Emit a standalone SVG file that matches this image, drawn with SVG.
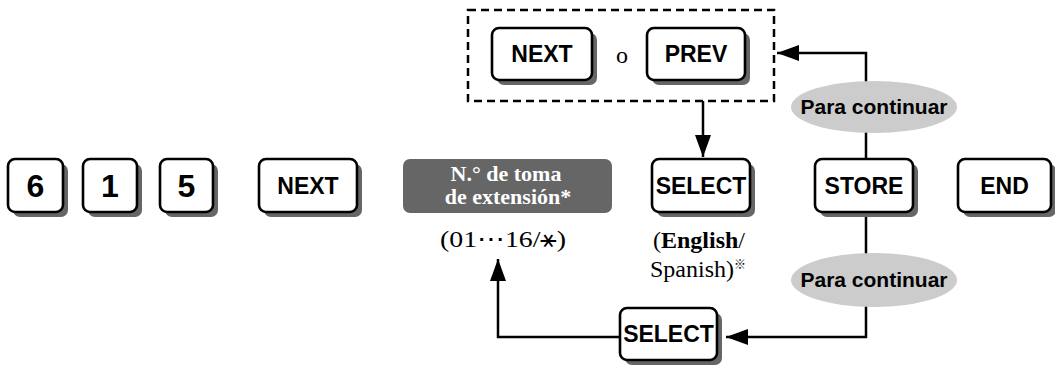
<svg xmlns="http://www.w3.org/2000/svg" width="1055" height="365" viewBox="0 0 1055 365">
<style>
.key{fill:#fff;stroke:#000;stroke-width:2.6}
.sh{fill:#666}
.kt{font-family:"Liberation Sans",Arial,sans-serif;font-weight:bold;font-size:23px;text-anchor:middle;fill:#000}
.dg{font-family:"Liberation Sans",Arial,sans-serif;font-weight:bold;font-size:32px;text-anchor:middle;fill:#000}
.sf{font-family:"Liberation Serif","Times New Roman",serif;font-size:24px;fill:#000}
.ln{fill:none;stroke:#000;stroke-width:2.5}
.ell{fill:#cccccc}
.et{font-family:"Liberation Sans",Arial,sans-serif;font-weight:bold;font-size:21px;text-anchor:middle;fill:#000}
</style>
<defs>
<marker id="ah" markerUnits="userSpaceOnUse" markerWidth="22" markerHeight="16" refX="22" refY="8" orient="auto">
<path d="M0,0 L22,8 L0,16 z" fill="#000"/>
</marker>
</defs>

<g id="connectors">
<rect x="468" y="10" width="306" height="91" fill="none" stroke="#000" stroke-width="2.5" stroke-dasharray="8,5"/>
<path class="ln" d="M703,101 L703,157" marker-end="url(#ah)"/>
<path class="ln" d="M866,159 L866,53 L777,53" marker-end="url(#ah)"/>
<path class="ln" d="M866,212 L866,337 L726,337" marker-end="url(#ah)"/>
<path class="ln" d="M620,337 L498,337 L498,259" marker-end="url(#ah)"/>
</g>

<g id="key6"><rect class="sh" x="13" y="164" width="55" height="53" rx="7"/><rect class="key" x="8" y="159" width="55" height="53" rx="7"/><text class="dg" x="35.5" y="197">6</text></g>
<g id="key1"><rect class="sh" x="88" y="164" width="54" height="53" rx="7"/><rect class="key" x="83" y="159" width="54" height="53" rx="7"/><text class="dg" x="110" y="197">1</text></g>
<g id="key5"><rect class="sh" x="165" y="164" width="53" height="53" rx="7"/><rect class="key" x="160" y="159" width="53" height="53" rx="7"/><text class="dg" x="186.5" y="197">5</text></g>
<g id="next"><rect class="sh" x="264" y="164" width="98" height="53" rx="7"/><rect class="key" x="259" y="159" width="98" height="53" rx="7"/><text class="kt" x="308" y="194">NEXT</text></g>

<g id="extno">
<rect x="403" y="159" width="209" height="54" rx="7" fill="#666"/>
<text class="sf" x="506" y="181" text-anchor="middle" font-weight="bold" font-size="22" style="fill:#fff;font-size:22px">N.° de toma</text>
<text class="sf" x="508" y="204" text-anchor="middle" font-weight="bold" font-size="22" style="fill:#fff;font-size:22px">de extensión*</text>
<text class="sf" x="503" y="247" text-anchor="middle" textLength="126" lengthAdjust="spacingAndGlyphs">(01⋯16/<tspan font-family="'DejaVu Sans',sans-serif">⚹</tspan>)</text>
</g>

<g id="select"><rect class="sh" x="657" y="164" width="98" height="53" rx="7"/><rect class="key" x="652" y="159" width="98" height="53" rx="7"/><text class="kt" x="701" y="194">SELECT</text>
<text class="sf" x="699" y="248" text-anchor="middle">(<tspan font-weight="bold">English</tspan>/</text>
<text class="sf" x="650" y="277">Spanish)<tspan font-family="'Noto Sans CJK JP','DejaVu Sans',sans-serif" font-size="12" dy="-8">※</tspan></text>
</g>

<g id="store"><rect class="sh" x="820" y="164" width="98" height="53" rx="7"/><rect class="key" x="815" y="159" width="98" height="53" rx="7"/><text class="kt" x="864" y="194">STORE</text></g>
<g id="end"><rect class="sh" x="963" y="164" width="93" height="53" rx="7"/><rect class="key" x="958" y="159" width="93" height="53" rx="7"/><text class="kt" x="1004.5" y="194">END</text></g>

<g id="next2"><rect class="sh" x="497" y="33" width="100" height="52" rx="7"/><rect class="key" x="492" y="28" width="100" height="52" rx="7"/><text class="kt" x="542" y="62">NEXT</text></g>
<text id="or" class="sf" x="622" y="63" text-anchor="middle">o</text>
<g id="prev"><rect class="sh" x="652" y="33" width="98" height="52" rx="7"/><rect class="key" x="647" y="28" width="98" height="52" rx="7"/><text class="kt" x="696" y="62">PREV</text></g>

<g id="cont1"><ellipse class="ell" cx="874" cy="107" rx="83" ry="26"/><text class="et" x="874" y="114">Para continuar</text></g>
<g id="cont2"><ellipse class="ell" cx="874" cy="280" rx="83" ry="27"/><text class="et" x="874" y="287">Para continuar</text></g>

<g id="select2"><rect class="sh" x="625" y="313" width="97" height="52" rx="7"/><rect class="key" x="620" y="308" width="97" height="52" rx="7"/><text class="kt" x="668.5" y="342">SELECT</text></g>
</svg>
